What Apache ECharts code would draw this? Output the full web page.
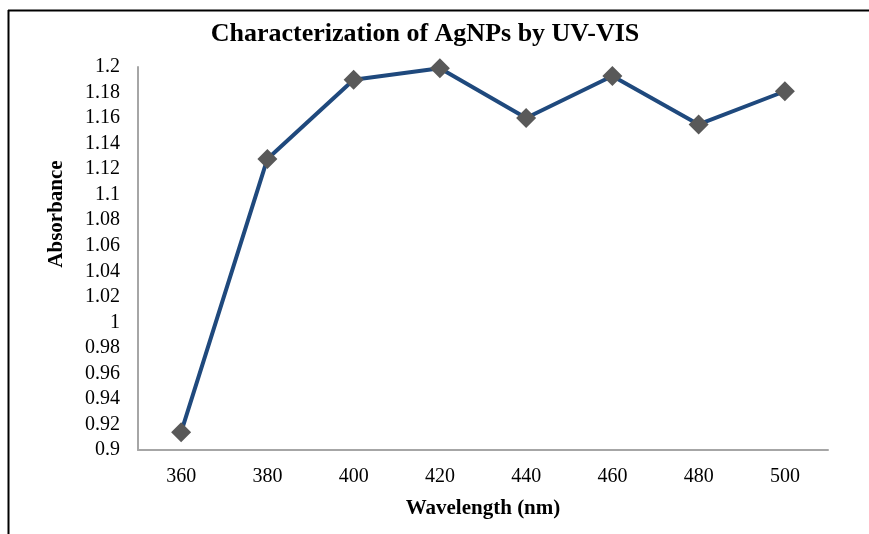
<!DOCTYPE html>
<html>
<head>
<meta charset="utf-8">
<script src="https://cdn.jsdelivr.net/npm/echarts@6/dist/echarts.min.js"></script>
<style>
	html, body { margin: 0; padding: 0; background: #fff; }
	#chart { width: 869px; height: 534px; }
</style>
</head>
<body>
<div id="chart"></div>
<script>
const wavelengths = ["360", "380", "400", "420", "440", "460", "480", "500"];
const absorbance = [0.914, 1.128, 1.19, 1.199, 1.16, 1.193, 1.155, 1.181];
const yMin = 0.9;
const yMax = 1.2;
const yStep = 0.02;

const serif = "'Liberation Serif', 'Times New Roman', serif";

const myChart = echarts.init(document.getElementById("chart"));
const option = {
	backgroundColor: "#fff",
	animation: false,
	title: {
		text: "Characterization of AgNPs by UV-VIS",
		left: 420,
		top: 16,
		textAlign: "center",
		textStyle: { fontFamily: serif, fontSize: 26, fontWeight: "bold", color: "#000" }
	},
	grid: { left: 138, right: 41, top: 67, bottom: 84 },
	xAxis: {
		type: "category",
		boundaryGap: true,
		data: wavelengths,
		name: "Wavelength (nm)",
		nameLocation: "middle",
		nameGap: 48,
		nameTextStyle: { fontFamily: serif, fontSize: 21, fontWeight: "bold", color: "#000" },
		axisLine: { lineStyle: { color: "#a6a6a6", width: 2 } },
		axisTick: { show: false },
		axisLabel: { fontFamily: serif, fontSize: 20, color: "#000", margin: 17 }
	},
	yAxis: {
		type: "value",
		min: yMin,
		max: yMax,
		interval: yStep,
		axisLine: { show: true, lineStyle: { color: "#a6a6a6", width: 2 } },
		axisTick: { show: false },
		splitLine: { show: false },
		axisLabel: {
			fontFamily: serif, fontSize: 20, color: "#000", margin: 18,
			formatter: v => String(Math.round(v * 100) / 100)
		}
	},
	graphic: [
		{ type: "line", shape: { x1: 8, y1: 10.5, x2: 869, y2: 10.5 }, style: { stroke: "#000", lineWidth: 2 } },
		{ type: "line", shape: { x1: 8.5, y1: 10, x2: 8.5, y2: 534 }, style: { stroke: "#000", lineWidth: 2 } },
		{
			type: "text", x: 57, y: 214, rotation: Math.PI / 2,
			style: {
				text: "Absorbance", fontFamily: serif, fontSize: 21, fontWeight: "bold",
				fill: "#000", align: "center", verticalAlign: "middle"
			}
		}
	],
	series: [
		{
			type: "line",
			data: absorbance,
			symbol: "diamond",
			symbolSize: 20,
			lineStyle: { color: "#1f497d", width: 4 },
			itemStyle: { color: "#595959" }
		}
	]
};
myChart.setOption(option);
</script>
</body>
</html>
